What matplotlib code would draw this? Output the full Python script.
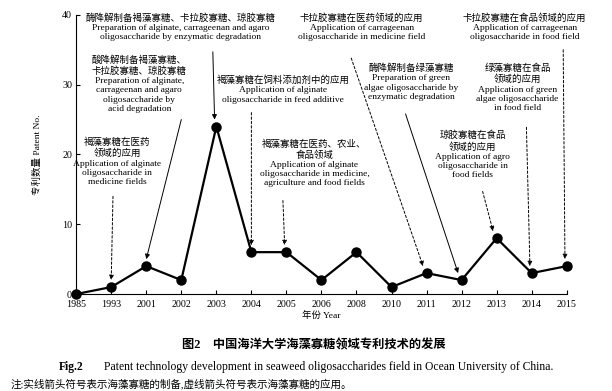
import matplotlib
matplotlib.use("Agg")
import matplotlib.pyplot as plt

plt.rcParams['font.family'] = ['Liberation Serif', 'Noto Sans CJK SC']

years = ['1985', '1993', '2001', '2002', '2003', '2004', '2005', '2006',
         '2008', '2010', '2011', '2012', '2013', '2014', '2015']
patents = [0, 1, 4, 2, 24, 6, 6, 2, 6, 1, 3, 2, 8, 3, 4]
yticks = [0, 10, 20, 30, 40]

# annotations: (text, text pos (x index, y value), arrow start, arrow target index, solid?)
notes = [
    ("酶降解制备褐藻寡糖、卡拉胶寡糖、琼胶寡糖\nPreparation of alginate, carrageenan and agaro\noligosaccharide by enzymatic degradation",
     (2.97, 40.3), (3.9, 34.7), 4, True),
    ("酸降解制备褐藻寡糖、\n卡拉胶寡糖、琼胶寡糖\nPreparation of alginate,\ncarrageenan and agaro\noligosaccharide by\nacid degradation",
     (1.8, 34.2), (3.0, 25.0), 2, True),
    ("褐藻寡糖在医药\n领域的应用\nApplication of alginate\noligosaccharide in\nmedicine fields",
     (1.17, 22.4), (1.05, 14.0), 1, False),
    ("褐藻寡糖在饲料添加剂中的应用\nApplication of alginate\noligosaccharide in feed additive",
     (5.9, 31.3), (5.0, 26.0), 5, False),
    ("卡拉胶寡糖在医药领域的应用\nApplication of carrageenan\noligosaccharide in medicine field",
     (8.15, 40.3), (7.85, 33.8), 10, False),
    ("酶降解制备绿藻寡糖\nPreparation of green\nalgae oligosaccharide by\nenzymatic degradation",
     (9.57, 33.0), (9.4, 25.8), 11, True),
    ("褐藻寡糖在医药、农业、\n食品领域\nApplication of alginate\noligosaccharide in medicine,\nagriculture and food fields",
     (6.8, 22.2), (5.9, 13.4), 6, False),
    ("琼胶寡糖在食品\n领域的应用\nApplication of agro\noligosaccharide in\nfood fields",
     (11.31, 23.4), (11.6, 14.7), 12, False),
    ("绿藻寡糖在食品\n领域的应用\nApplication of green\nalgae oligosaccharide\nin food field",
     (12.6, 33.0), (12.85, 23.9), 13, False),
    ("卡拉胶寡糖在食品领域的应用\nApplication of carrageenan\noligosaccharide in food field",
     (12.8, 40.3), (13.9, 35.0), 14, False),
]

fig = plt.figure(figsize=(6.12, 3.91), dpi=100)
ax = fig.add_axes([0.1245, 0.248, 0.8015, 0.714])
x = list(range(len(years)))
ax.plot(x, patents, color='black', lw=1.6, marker='o', markersize=6.5,
        clip_on=False, zorder=5)
ax.set_xlim(0, len(years) - 1)
ax.set_ylim(0, 40)
ax.set_xticks(x)
ax.set_xticklabels(years)
ax.set_yticks(yticks)
ax.tick_params(direction='in', length=3, width=0.8, labelsize=7.2)
ax.tick_params(axis='x', pad=4)
ax.tick_params(axis='y', pad=3)
for s in ['top', 'right']:
    ax.spines[s].set_visible(False)
ax.spines['left'].set_linewidth(0.8)
ax.spines['bottom'].set_linewidth(0.8)
ax.set_xlabel('年份 Year', fontsize=6.8, labelpad=2)
ax.set_ylabel('专利数量 Patent No.', fontsize=6.8, labelpad=14)

for text, tpos, start, idx, solid in notes:
    ax.text(tpos[0], tpos[1], text, ha='center', va='top', fontsize=6.8,
            linespacing=1.2, clip_on=False)
    ty = patents[idx] + 1.0
    if start[0] < idx - 0.3:
        tx = idx - 0.1
    elif start[0] < idx:
        tx = idx - 0.05
    else:
        tx = idx
    ax.annotate('', xy=(tx, ty), xytext=start,
                arrowprops=dict(arrowstyle='-|>', color='black',
                                lw=0.7, ls='-' if solid else (0, (2.5, 2)),
                                mutation_scale=7, shrinkA=0, shrinkB=0),
                annotation_clip=False)

fig.text(0.512, 0.118, '图2    中国海洋大学海藻寡糖领域专利技术的发展',
         ha='center', va='center', fontsize=8.8, fontweight='bold')
fig.text(0.096, 0.062, 'Fig.2', ha='left', va='center', fontsize=8.4, fontweight='bold')
fig.text(0.17, 0.062, 'Patent technology development in seaweed oligosaccharides field in Ocean University of China.',
         ha='left', va='center', fontsize=8.4)
fig.text(0.018, 0.018, '注:实线箭头符号表示海藻寡糖的制备,虚线箭头符号表示海藻寡糖的应用。',
         ha='left', va='center', fontsize=7.6)

fig.savefig('out.png', dpi=100)
